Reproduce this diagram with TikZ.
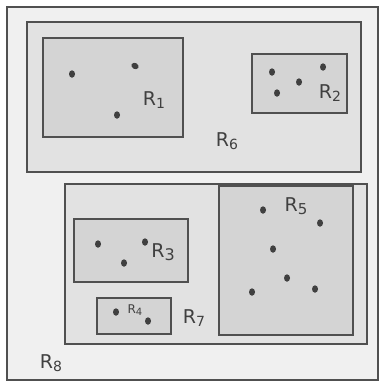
\documentclass[tikz,border=0pt]{standalone}
\usepackage{fontspec}
\setmainfont{DejaVu Sans}
\usetikzlibrary{shapes.geometric}
\definecolor{edge}{HTML}{505050}
\definecolor{ink}{HTML}{404040}
\definecolor{outerfill}{HTML}{F0F0F0}
\definecolor{midfill}{HTML}{E2E2E2}
\definecolor{innerfill}{HTML}{D4D4D4}
\newcommand{\Rsub}[2]{R\raisebox{-0.3ex}{\fontsize{#2}{#2}\selectfont #1}}
\tikzset{
  region/.style={draw=edge, line width=2.3pt},
  outerbox/.style={region, fill=outerfill},
  midbox/.style={region, fill=midfill},
  innerbox/.style={region, fill=innerfill},
  pt/.style={ellipse, fill=ink, inner sep=0pt, minimum width=6pt, minimum height=7.5pt},
  lbl/.style={text=ink, font=\fontsize{19}{19}\selectfont, inner sep=0pt},
  slbl/.style={text=ink, font=\fontsize{12}{12}\selectfont, inner sep=0pt}
}
\begin{document}
\begin{tikzpicture}[x=1pt,y=-1pt]
\useasboundingbox (0,0) rectangle (382,383);
\fill[white] (0,0) rectangle (382,383);
% outer R8
\draw[outerbox] (7,7) rectangle (378,380);
% R6
\draw[midbox] (27,22) rectangle (361,172);
\draw[innerbox] (43,38) rectangle (183,137);
\draw[innerbox] (252,54) rectangle (347,113);
% R7
\draw[midbox] (65,184) rectangle (367,344);
\draw[innerbox] (219,186) rectangle (353,335);
\draw[innerbox] (74,219) rectangle (188,282);
\draw[innerbox] (97,298) rectangle (171,334);
% points R1
\node[pt] (a1) at (72,74) {};
\node[pt, rotate=60] (a2) at (135,66) {};
\node[pt] (a3) at (117,115) {};
% points R2
\node[pt] (b1) at (272,72) {};
\node[pt] (b2) at (277,93) {};
\node[pt] (b3) at (299,82) {};
\node[pt] (b4) at (323,67) {};
% points R3
\node[pt] (c1) at (98,244) {};
\node[pt] (c2) at (124,263) {};
\node[pt] (c3) at (145,242) {};
% points R4
\node[pt] (d1) at (116,312) {};
\node[pt] (d2) at (148,321) {};
% points R5
\node[pt] (e1) at (263,210) {};
\node[pt] (e2) at (320,223) {};
\node[pt] (e3) at (273,249) {};
\node[pt] (e4) at (287,278) {};
\node[pt] (e5) at (252,292) {};
\node[pt] (e6) at (315,289) {};
% labels
\node[lbl] (l1) at (154,100) {\Rsub{1}{14}};
\node[lbl] (l2) at (330,93) {\Rsub{2}{14}};
\node[lbl] (l6) at (227,141) {\Rsub{6}{14}};
\node[lbl] (l3) at (163,252) {\Rsub{3}{16}};
\node[slbl] (l4) at (135,310) {\Rsub{4}{10}};
\node[lbl] (l5) at (296,206) {\Rsub{5}{15}};
\node[lbl] (l7) at (194,318) {\Rsub{7}{14}};
\node[lbl] (l8) at (51,363) {\Rsub{8}{14}};
\end{tikzpicture}
\end{document}
